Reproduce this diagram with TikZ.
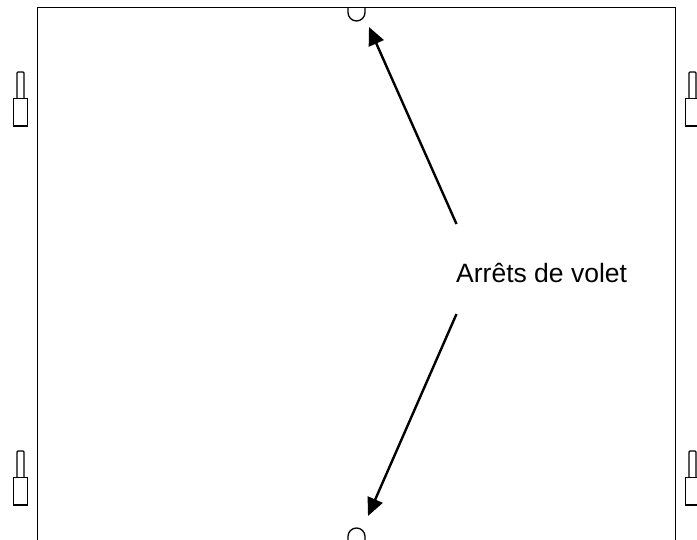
\documentclass[tikz,border=0pt]{standalone}
\usepackage{fontspec}
\setmainfont{Liberation Sans}
\usetikzlibrary{arrows.meta}
\tikzset{
  x=1pt,y=-1pt,
  outline/.style={draw=black,line width=1.3pt,fill=none},
  pointer/.style={draw=black,line width=2.4pt,-{Triangle[length=18pt,width=16pt]},shorten >=0pt},
  caption/.style={font=\fontsize{26.5pt}{30pt}\selectfont,inner sep=0pt,anchor=base west,text=black}
}
\begin{document}
\begin{tikzpicture}
\useasboundingbox (0,0) rectangle (697,540);
% panel
\begin{scope}
\clip (0,0) rectangle (697,540);
\draw[outline] (37.5,540) -- (37.5,7.5) -- (675.5,7.5) -- (675.5,540);
% stops
\draw[outline] (348,7.5) -- (348,12.5) arc[start angle=180,end angle=0,x radius=8.5,y radius=8.5] -- (365,7.5);
\draw[outline] (348,540) -- (348,536.5) arc[start angle=180,end angle=360,x radius=8.5,y radius=8.5] -- (365,540);
% pegs
\foreach \px/\py in {13.5/72,13.5/451,685.5/72,685.5/451}{
  \draw[outline] (\px+3.5,\py+26.5) -- (\px+3.5,\py+1) -- (\px+4.5,\py) -- (\px+9.5,\py) -- (\px+10.5,\py+1) -- (\px+10.5,\py+26.5);
  \draw[outline] (\px,\py+26.5) rectangle (\px+14,\py+54);
}
\end{scope}
\node[caption] (label) at (456,283) {Arrêts de volet};
\coordinate (topstart) at (456.5,224);
\coordinate (toptip) at (369,27);
\coordinate (botstart) at (456.5,314);
\coordinate (bottip) at (368,516);
\draw[pointer] (topstart) -- (toptip);
\draw[pointer] (botstart) -- (bottip);
\end{tikzpicture}
\end{document}
